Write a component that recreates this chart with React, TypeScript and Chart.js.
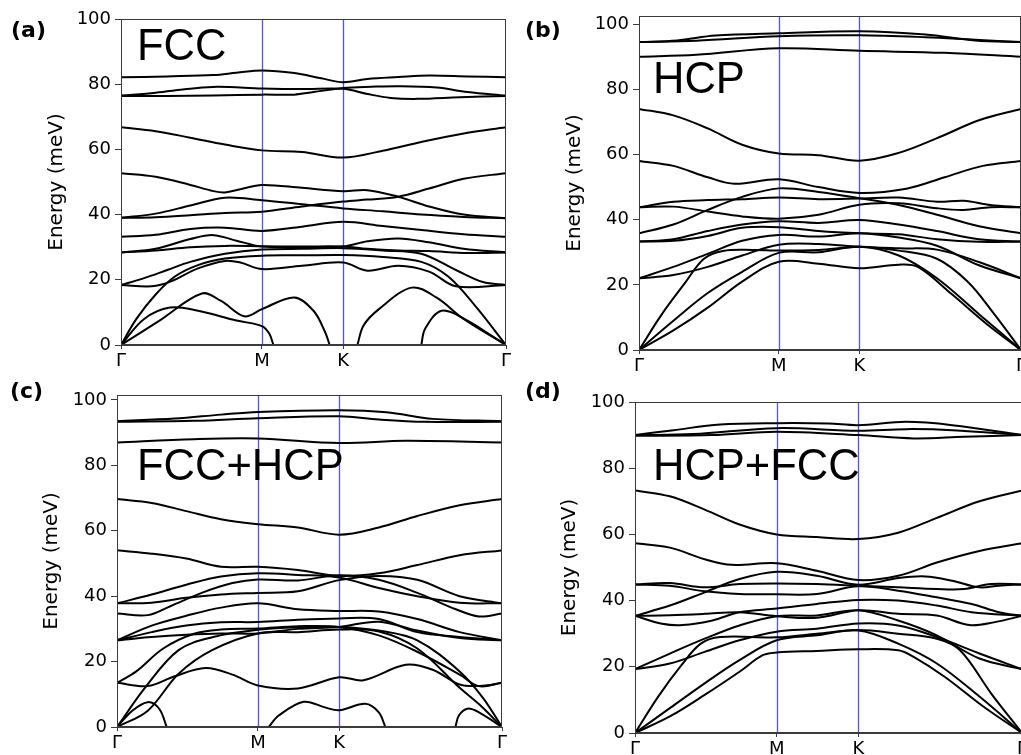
import React, { useEffect, useRef } from 'react';
import { Chart, registerables } from 'chart.js';

Chart.register(...registerables);

// ---- axis data ----
const kLabels = ['Γ', 'M', 'K', 'Γ'];
const kPositions = [0, 36.6, 57.7, 100];
const yTickValues = [0, 20, 40, 60, 80, 100];

// ---- band data: each band is a list of [path %, energy meV] ----
const fccBands: number[][][] = [
  [[0, 82.1], [12, 82.4], [24, 82.8], [30, 83.5], [36.6, 84.2], [45, 83.4], [52, 81.8], [57.7, 80.6], [64, 81.6], [72, 82.2], [80, 82.7], [90, 82.4], [100, 82.1]],
  [[0, 76.5], [9, 77.4], [18, 78.6], [25, 79.2], [36.6, 78.7], [47, 78.5], [57.7, 78.6], [64, 77], [70, 75.8], [77, 75.5], [88, 76], [100, 76.4]],
  [[0, 76.4], [12, 76.4], [24, 76.5], [36.6, 76.8], [45, 76.8], [50, 77.6], [57.7, 78.8], [65, 79.2], [72, 79.4], [82, 79], [90, 77.6], [100, 76.5]],
  [[0, 66.8], [9, 65.6], [18, 63.6], [27, 61.5], [36.6, 59.7], [47, 59.2], [57.7, 57.5], [68, 59.6], [78, 62.3], [89, 64.9], [100, 66.8]],
  [[0, 52.7], [9, 51.6], [18, 49.1], [24, 47.2], [27, 46.8], [31, 47.8], [36.6, 49.1], [47, 48.2], [57.7, 47.2], [64, 47.5], [72, 45.5], [80, 42.5], [89, 40], [100, 38.9]],
  [[0, 39], [9, 40.3], [18, 42.8], [27, 45.2], [36.6, 44.4], [47, 43.2], [57.7, 41.9], [68, 41], [78, 40], [89, 39.3], [100, 38.9]],
  [[0, 39], [9, 39.2], [18, 39.8], [27, 40.5], [36.6, 40.9], [47, 42.5], [57.7, 44], [64, 44.6], [72, 45.5], [80, 48], [89, 51], [100, 52.7]],
  [[0, 33.2], [9, 33.8], [18, 35.6], [27, 36], [36.6, 35], [47, 36.3], [57.7, 37.8], [68, 36.5], [78, 35.3], [89, 34], [100, 33.2]],
  [[0, 28.4], [9, 29.5], [18, 32.5], [24, 33.7], [30, 32], [36.6, 30.2], [47, 30], [57.7, 30.2], [64, 31.8], [72, 32.7], [80, 31.5], [89, 29.5], [100, 28.4]],
  [[0, 28.4], [9, 29], [18, 30], [27, 30.4], [36.6, 30.3], [47, 30.2], [57.7, 30.2], [64, 29.5], [72, 29], [80, 28.8], [90, 28.2], [100, 28.4]],
  [[0, 18.4], [6, 20.5], [12, 23], [18, 25.5], [27, 28], [36.6, 29.3], [47, 29.5], [57.7, 29.7], [68, 29], [78, 28], [87, 23], [94, 19.3], [100, 18.4]],
  [[0, 18.4], [8, 18], [13, 19.5], [20, 23.5], [27, 25.8], [31, 25.3], [36.6, 23.3], [47, 24.3], [57.7, 25.3], [64, 22.8], [72, 24.3], [80, 22.5], [87, 18], [100, 18.4]],
  [[0, 0], [4, 8], [9, 15.5], [14, 21], [20, 24.5], [27, 26.5], [36.6, 27.4], [47, 27.5], [57.7, 27.6], [68, 27], [78, 25.5], [85, 21], [92, 12], [100, 0]],
  [[0, 0], [6, 8], [12.7, 11.5], [20, 10.5], [30, 7.5], [36.6, 5.8], [38.5, 3.5], [39.6, 0]],
  [[0, 0], [10, 7.5], [21, 15.8], [26, 13.5], [32, 8.8], [36.6, 11], [45, 14.6], [50, 10.5], [53, 4], [54.2, 0]],
  [[61.4, 0], [63, 6], [67, 11], [75.5, 17.6], [82, 14.5], [89, 8], [100, 0]],
  [[78, 0], [79, 5], [83.3, 10.5], [90, 7.5], [95, 3.8], [100, 0]],
];

const hcpBands: number[][][] = [
  [[0, 94.5], [10, 95], [20, 96.5], [36.6, 97.2], [57.7, 97.8], [75, 96.8], [88, 95], [100, 94.5]],
  [[0, 94.5], [15, 94.9], [36.6, 96.3], [57.7, 96.6], [75, 96], [88, 95.2], [100, 94.5]],
  [[0, 90], [15, 90.6], [36.6, 92.6], [57.7, 91.8], [80, 91.2], [100, 90]],
  [[0, 74], [9, 72], [18, 68], [27, 63], [36.6, 60.3], [47, 59.8], [57.7, 58.1], [68, 60.5], [78, 65], [89, 70.5], [100, 74]],
  [[0, 58], [9, 56.5], [18, 53], [25, 51], [36.6, 52.4], [47, 50], [57.7, 48.2], [70, 49.5], [80, 53], [90, 56.5], [100, 58]],
  [[0, 43.8], [9, 45.5], [18, 46], [27, 46.3], [36.6, 46.8], [47, 46.3], [57.7, 46.5], [68, 46.8], [78, 45.5], [85, 45.8], [92, 44.5], [100, 43.8]],
  [[0, 43.8], [9, 44], [18, 42.5], [27, 41], [36.6, 40.3], [47, 41.5], [57.7, 44.6], [68, 45], [78, 43.5], [85, 43], [92, 43.8], [100, 43.8]],
  [[0, 35.8], [9, 38.5], [18, 43], [27, 47], [36.6, 49.6], [47, 48.5], [57.7, 46.6], [68, 44.5], [78, 41.5], [89, 38], [100, 35.8]],
  [[0, 33.3], [9, 34], [18, 36.5], [27, 38.5], [36.6, 39.5], [47, 39], [57.7, 39.9], [68, 38.5], [78, 36.5], [89, 34], [100, 33.3]],
  [[0, 33.3], [9, 33.5], [18, 35], [27, 37.5], [36.6, 37.7], [47, 36.5], [57.7, 35.8], [68, 35.5], [78, 34], [89, 33.2], [100, 33.3]],
  [[0, 22], [9, 25.5], [18, 29.5], [27, 33.5], [36.6, 35.3], [47, 34.8], [57.7, 35.8], [68, 34.5], [78, 32], [89, 26], [100, 22]],
  [[0, 22], [9, 23], [18, 25.5], [27, 29], [36.6, 32.3], [47, 32.5], [57.7, 31.7], [68, 31.2], [78, 30.8], [89, 27], [100, 22]],
  [[0, 0], [6, 11], [12, 20.5], [17, 28], [22, 30.4], [30, 30.7], [36.6, 30.5], [47, 30.7], [57.7, 31.7], [68, 30.5], [78, 28], [86, 21], [93, 11], [100, 0]],
  [[0, 0], [9, 9], [18, 17.5], [27, 24], [36.6, 29.8], [47, 30], [57.7, 31.7], [68, 29], [78, 22], [89, 11], [100, 0]],
  [[0, 0], [9, 6], [18, 13], [27, 21], [36.6, 27.1], [47, 26.5], [57.7, 25.1], [68, 26.2], [73, 25.5], [82, 17], [91, 8], [100, 0]],
];

const fccHcpBands: number[][][] = [
  [[0, 93.5], [15, 94.3], [27, 95.5], [36.6, 96.3], [57.7, 96.8], [70, 96.2], [82, 94.2], [100, 93.5]],
  [[0, 93.3], [20, 93.6], [36.6, 94.4], [57.7, 95], [68, 94], [80, 93.3], [100, 93.3]],
  [[0, 87], [20, 88], [36.6, 88.2], [57.7, 86.8], [75, 87.5], [100, 87]],
  [[0, 69.7], [9, 68.5], [18, 66], [27, 63.5], [36.6, 62], [47, 61], [57.7, 58.8], [68, 61], [78, 64.5], [89, 67.8], [100, 69.7]],
  [[0, 54], [9, 53], [18, 51.5], [27, 49], [36.6, 49], [47, 48], [57.7, 46.2], [68, 47], [78, 49.5], [89, 52.5], [100, 54]],
  [[0, 37.8], [9, 40.5], [18, 43.5], [27, 46], [36.6, 47], [47, 46.5], [57.7, 45.7], [68, 42.5], [78, 40], [89, 38], [100, 37.8]],
  [[0, 37.8], [9, 38], [18, 39.5], [27, 40.5], [36.6, 41], [47, 41.5], [57.7, 44.9], [68, 46.2], [78, 45], [89, 40], [100, 37.8]],
  [[0, 34.7], [8, 34.2], [14, 37], [22, 41], [30, 44], [36.6, 45.1], [47, 44.8], [57.7, 46.4], [68, 45], [78, 41], [88, 36], [94, 33.8], [100, 34.7]],
  [[0, 26.5], [9, 31], [18, 34], [27, 36.5], [36.6, 37.8], [47, 36], [57.7, 35.5], [68, 35.3], [78, 33], [89, 29], [100, 26.5]],
  [[0, 26.5], [9, 29], [18, 31], [27, 32], [36.6, 32.1], [47, 32.8], [57.7, 33.2], [68, 33], [78, 29], [89, 27.5], [100, 26.5]],
  [[0, 26.5], [9, 27.5], [18, 28.2], [27, 28.6], [36.6, 28.6], [47, 30], [57.7, 30.6], [68, 32.2], [78, 29.5], [89, 27.2], [100, 26.5]],
  [[0, 13.5], [5, 17], [12, 24], [20, 28.5], [27, 29.8], [36.6, 30.1], [47, 30.8], [57.7, 30.6], [68, 28], [78, 23], [89, 16], [94, 12.5], [100, 13.5]],
  [[0, 13.5], [8, 12.5], [15, 15.5], [23, 18], [30, 16], [36.6, 12.7], [47, 11.8], [57.7, 15.2], [64, 14.3], [75, 19], [82, 17.5], [89, 13], [95, 12.6], [100, 13.5]],
  [[0, 0], [7.4, 12.2], [16, 23.5], [25, 27.5], [36.6, 29.7], [47, 30.5], [57.7, 30.6], [68, 29.5], [78, 26.5], [89, 17], [95, 9], [100, 0]],
  [[0, 0], [8, 5], [16, 16.3], [24.7, 23.5], [36.6, 28.6], [47, 29], [57.7, 29.8], [68, 29.2], [78, 24], [89, 12], [94, 7], [100, 0]],
  [[0, 0], [4, 5], [8, 7.6], [11, 5.5], [12.9, 0]],
  [[39.4, 0], [42, 3.5], [48.5, 7.7], [54, 6], [57.7, 5.1], [64.5, 7.1], [68, 4.5], [69.7, 0]],
  [[87.9, 0], [88.8, 3.5], [91, 5.6], [94, 4.5], [100, 0]],
];

const hcpFccBands: number[][][] = [
  [[0, 90], [10, 91.5], [22, 93.2], [36.6, 93.6], [50, 93.5], [57.7, 93], [70, 94], [82, 93], [100, 90]],
  [[0, 90], [15, 90.3], [36.6, 92.1], [57.7, 91.3], [70, 91.8], [82, 91.5], [100, 90]],
  [[0, 89.8], [20, 90], [36.6, 91], [57.7, 90], [72, 89], [85, 89.5], [100, 90]],
  [[0, 73.3], [9, 71.5], [18, 67.5], [27, 63], [36.6, 60], [47, 59.2], [57.7, 58.6], [68, 60.5], [78, 65], [89, 70], [100, 73.3]],
  [[0, 57.3], [9, 56], [18, 52.5], [25, 50.8], [36.6, 51.3], [47, 49], [57.7, 46.2], [68, 47.5], [78, 51.5], [89, 55], [100, 57.3]],
  [[0, 44.9], [9, 45.3], [18, 44], [27, 45], [36.6, 45.2], [47, 45], [57.7, 44.5], [68, 44], [78, 43.5], [85, 43.5], [92, 45], [100, 44.9]],
  [[0, 44.9], [9, 44.5], [18, 42.8], [27, 42], [36.6, 41.9], [47, 42], [57.7, 44.3], [68, 43], [78, 41], [87, 39], [94, 36.5], [100, 35.4]],
  [[0, 35.4], [9, 38.5], [18, 42.5], [27, 46.5], [36.6, 48.7], [47, 47.5], [57.7, 44.8], [68, 46.8], [75, 47.3], [82, 46], [89, 44], [94, 44.5], [100, 44.9]],
  [[0, 35.4], [7, 33], [12.3, 32.6], [20, 34], [27, 36.5], [36.6, 37.6], [47, 39], [57.7, 40.2], [68, 40], [78, 38.5], [87, 36.5], [100, 35.4]],
  [[0, 35.4], [9, 35.6], [18, 36], [27, 36.5], [36.6, 35.3], [47, 34.8], [57.7, 37.1], [68, 36], [78, 35.5], [86.4, 32.6], [93, 33.5], [100, 35.4]],
  [[0, 19.3], [9, 24], [18, 28.5], [27, 32.5], [36.6, 35.3], [47, 35.5], [57.7, 37.1], [68, 34], [78, 29.5], [89, 22.5], [100, 19.3]],
  [[0, 19.3], [9, 21], [18, 24.5], [27, 28], [36.6, 30.6], [47, 31.5], [57.7, 33.1], [68, 32.5], [78, 29], [89, 24], [100, 19.3]],
  [[0, 0], [6, 11], [12, 20.5], [17, 27], [22, 29], [36.6, 28.9], [47, 30], [57.7, 31.1], [68, 30], [78, 28.5], [84, 25], [92, 12], [100, 0]],
  [[0, 0], [9, 7.5], [18, 15], [27, 22], [36.6, 28], [47, 29.5], [57.7, 31], [68, 27], [78, 21], [89, 11], [100, 0]],
  [[0, 0], [9, 5], [18, 11.5], [27, 18.5], [33, 23.5], [36.6, 24.3], [47, 24.8], [57.7, 25.3], [68, 25], [72, 23], [80, 17], [90, 8], [100, 0]],
];

const panelTags = ['(a)', '(b)', '(c)', '(d)'];
const panelNames = ['FCC', 'HCP', 'FCC+HCP', 'HCP+FCC'];
const panelYMax = [100, 102.5, 101.5, 100];

// ---- layout (positions / sizes) ----
type Spec = {
  bands: number[][][];
  tag: string;
  name: string;
  yMax: number;
  left: number; top: number; w: number; h: number;
  area: { left: number; top: number; right: number; bottom: number };
  titlePad: number;
  tagPos: [number, number];
  namePos: [number, number];
};

const specs: Spec[] = [
  { bands: fccBands, tag: panelTags[0], name: panelNames[0], yMax: panelYMax[0], left: 0, top: 0, w: 520, h: 375,
    area: { left: 121, top: 19, right: 506, bottom: 345 }, titlePad: 45, tagPos: [11, 37], namePos: [137, 60] },
  { bands: hcpBands, tag: panelTags[1], name: panelNames[1], yMax: panelYMax[1], left: 515, top: 0, w: 520, h: 375,
    area: { left: 124, top: 16, right: 506, bottom: 350 }, titlePad: 48, tagPos: [10, 37], namePos: [138, 93] },
  { bands: fccHcpBands, tag: panelTags[2], name: panelNames[2], yMax: panelYMax[2], left: 0, top: 378, w: 520, h: 377,
    area: { left: 117, top: 17, right: 502, bottom: 349 }, titlePad: 40, tagPos: [10, 20], namePos: [137, 102] },
  { bands: hcpFccBands, tag: panelTags[3], name: panelNames[3], yMax: panelYMax[3], left: 515, top: 378, w: 520, h: 377,
    area: { left: 120, top: 24, right: 507, bottom: 355 }, titlePad: 43, tagPos: [10, 20], namePos: [138, 102] },
];

const decorPlugin = {
  id: 'decor',
  beforeDatasetsDraw(chart: any) {
    const { ctx, chartArea, scales } = chart;
    ctx.save();
    ctx.strokeStyle = 'rgba(50,50,250,0.85)';
    ctx.lineWidth = 1.3;
    [kPositions[1], kPositions[2]].forEach((v) => {
      const x = Math.round(scales.x.getPixelForValue(v)) + 0.5;
      ctx.beginPath();
      ctx.moveTo(x, chartArea.top);
      ctx.lineTo(x, chartArea.bottom);
      ctx.stroke();
    });
    ctx.restore();
  },
  afterDraw(chart: any, _args: any, opts: any) {
    const { ctx, chartArea } = chart;
    ctx.save();
    ctx.strokeStyle = '#3a3a3a';
    ctx.lineWidth = 1;
    ctx.strokeRect(chartArea.left + 0.5, chartArea.top + 0.5, chartArea.right - chartArea.left - 1, chartArea.bottom - chartArea.top - 1);
    ctx.fillStyle = '#000';
    ctx.textBaseline = 'alphabetic';
    ctx.textAlign = 'left';
    ctx.font = '43.5px "Liberation Sans", Arial, sans-serif';
    ctx.fillText(opts.name, opts.namePos[0], opts.namePos[1]);
    ctx.font = 'bold 22px "DejaVu Sans", sans-serif';
    ctx.fillText(opts.tag, opts.tagPos[0], opts.tagPos[1]);
    ctx.restore();
  },
};

function Panel({ spec }: { spec: Spec }) {
  const ref = useRef<HTMLCanvasElement>(null);
  useEffect(() => {
    const canvas = ref.current;
    if (!canvas) return;
    const chart = new Chart(canvas, {
      type: 'line',
      data: {
        datasets: spec.bands.map((b) => ({
          data: b.map(([x, y]) => ({ x, y })),
          borderColor: '#000',
          borderWidth: 2,
          pointRadius: 0,
          fill: false,
          tension: 0.35,
          cubicInterpolationMode: 'default',
        })),
      },
      options: {
        responsive: false,
        maintainAspectRatio: false,
        animation: false,
        events: [],
        layout: { padding: { left: 0, top: spec.area.top, right: spec.w - spec.area.right, bottom: 0 } },
        plugins: {
          legend: { display: false },
          tooltip: { enabled: false },
          decor: { name: spec.name, tag: spec.tag, namePos: spec.namePos, tagPos: spec.tagPos },
        } as any,
        scales: {
          x: {
            type: 'linear',
            min: 0,
            max: 100,
            afterBuildTicks: (s: any) => { s.ticks = kPositions.map((v) => ({ value: v })); },
            afterFit: (s: any) => { s.height = spec.h - spec.area.bottom; },
            ticks: {
              callback: (_v: any, i: number) => kLabels[i],
              autoSkip: false,
              maxRotation: 0,
              padding: 2,
              color: '#000',
              font: { family: 'DejaVu Sans', size: 18 },
            },
            grid: { display: true, drawOnChartArea: false, drawTicks: true, tickLength: 4, color: '#3a3a3a' },
            border: { display: true, color: '#3a3a3a' },
          },
          y: {
            type: 'linear',
            min: 0,
            max: spec.yMax,
            afterBuildTicks: (s: any) => { s.ticks = yTickValues.map((v) => ({ value: v })); },
            afterFit: (s: any) => { s.width = spec.area.left; },
            ticks: {
              padding: 4,
              color: '#000',
              font: { family: 'DejaVu Sans', size: 18 },
            },
            grid: { display: true, drawOnChartArea: false, drawTicks: true, tickLength: 6, color: '#3a3a3a' },
            border: { display: true, color: '#3a3a3a' },
            title: {
              display: true,
              text: 'Energy (meV)',
              color: '#000',
              font: { family: 'DejaVu Sans', size: 20 },
              padding: { top: spec.titlePad, bottom: 0 },
            },
          },
        },
      } as any,
      plugins: [decorPlugin],
    });
    return () => chart.destroy();
  }, [spec]);
  return (
    <canvas
      ref={ref}
      width={spec.w}
      height={spec.h}
      style={{ position: 'absolute', left: spec.left, top: spec.top, width: spec.w, height: spec.h }}
    />
  );
}

export default function App() {
  return (
    <div style={{ position: 'fixed', left: 0, top: 0, width: 1021, height: 755, overflow: 'hidden', background: '#fff' }}>
      {specs.map((s, i) => (
        <Panel key={i} spec={s} />
      ))}
    </div>
  );
}
